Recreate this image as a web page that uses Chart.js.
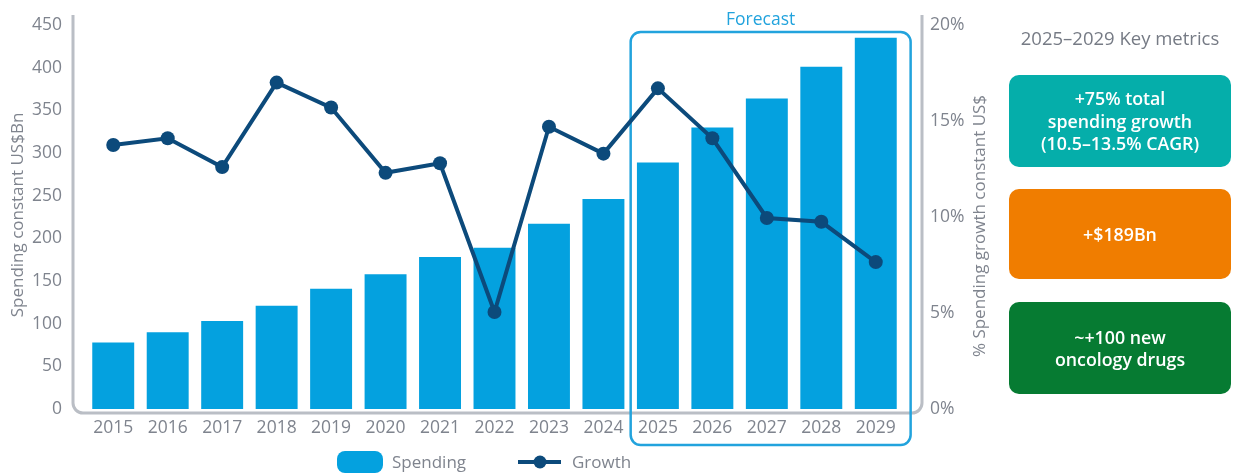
<!DOCTYPE html>
<html>
<head>
<meta charset="utf-8">
<title>Oncology spending</title>
<script src="https://cdn.jsdelivr.net/npm/chart.js@4/dist/chart.umd.min.js"></script>
<style>
  body { margin: 0; background: #fff; font-family: "Open Sans", sans-serif; }
  #wrap { position: relative; width: 1233px; height: 476px; overflow: hidden; }
  #chart { position: absolute; left: 0; top: 0; }
  .panel-title { position: absolute; left: 1009px; top: 26px; width: 222px; text-align: center;
    font-size: 18.5px; color: #767b85; line-height: 24px; }
  .kpi { position: absolute; left: 1009px; width: 222px; border-radius: 10px; color: #fff;
    font-weight: 600; font-size: 17.8px; line-height: 22.5px; display: flex; align-items: center;
    justify-content: center; text-align: center; }
</style>
</head>
<body>
<div id="wrap">
  <canvas id="chart" width="1233" height="476"></canvas>
  <div class="panel-title">2025–2029 Key metrics</div>
  <div class="kpi" style="top:75px;height:92px;background:#05aeaa;">+75% total<br>spending growth<br>(10.5–13.5% CAGR)</div>
  <div class="kpi" style="top:189px;height:90px;background:#f07d00;">+$189Bn</div>
  <div class="kpi" style="top:302px;height:92px;background:#067b32;">~+100 new<br>oncology drugs</div>
</div>
<script>
// Dane
const years = ['2015', '2016', '2017', '2018', '2019', '2020', '2021', '2022', '2023', '2024', '2025', '2026', '2027', '2028', '2029'];
const spending = [78, 90, 103, 121, 141, 158, 178, 189, 217, 246, 289, 330, 364, 401, 435];
const growth = [13.75, 14.1, 12.6, 17.0, 15.7, 12.3, 12.8, 5.05, 14.7, 13.3, 16.7, 14.1, 9.95, 9.75, 7.65];
const forecastFrom = '2025';

const GRAY = '#7f848e';
const AXIS = '#babec5';
const BAR = '#04a1df';
const NAVY = '#0c4a7b';
const BLUE = '#22a3dd';
const FONT = '"Open Sans", sans-serif';

function roundPath(ctx, x, y, w, h, r) {
    ctx.beginPath();
    ctx.moveTo(x + r, y);
    ctx.arcTo(x + w, y, x + w, y + h, r);
    ctx.arcTo(x + w, y + h, x, y + h, r);
    ctx.arcTo(x, y + h, x, y, r);
    ctx.arcTo(x, y, x + w, y, r);
    ctx.closePath();
}

// Stała szerokość osi pionowej, bez dodatkowego marginesu od etykiet
function fixVertical(width) {
    return s => {
        s.width = width;
        s.paddingTop = 10;
        s.paddingBottom = 10;
    };
}

// Rama osi, ramka prognozy, tytuły osi i legenda
const decorPlugin = {
    id: 'decor',
    beforeDatasetsDraw(chart) {
        const ctx = chart.ctx;
        const ca = chart.chartArea;
        const x = chart.scales.x;
        const i0 = years.indexOf(forecastFrom);
        const step = x.getPixelForValue(1) - x.getPixelForValue(0);

        // rama osi (lewa, dolna, prawa z zaokrąglonymi rogami)
        const l = ca.left - 13, r = ca.right + 19, b = ca.bottom + 4, t = ca.top - 10, rad = 10;
        ctx.save();
        ctx.strokeStyle = AXIS;
        ctx.lineWidth = 3;
        ctx.beginPath();
        ctx.moveTo(l, t);
        ctx.lineTo(l, b - rad);
        ctx.arcTo(l, b, l + rad, b, rad);
        ctx.lineTo(r - rad, b);
        ctx.arcTo(r, b, r, b - rad, rad);
        ctx.lineTo(r, t);
        ctx.stroke();

        // ramka prognozy
        const fl = (x.getPixelForValue(i0 - 1) + x.getPixelForValue(i0)) / 2;
        const fr = x.getPixelForValue(years.length - 1) + step * 0.64;
        const ft = ca.top + 7, fb = ca.bottom + 36;
        ctx.strokeStyle = BLUE;
        ctx.lineWidth = 2.5;
        roundPath(ctx, fl, ft, fr - fl, fb - ft, 10);
        ctx.stroke();
        ctx.fillStyle = BLUE;
        ctx.font = '17.5px ' + FONT;
        ctx.textAlign = 'center';
        ctx.textBaseline = 'alphabetic';
        ctx.fillText('Forecast', fl + 130, ca.top);
        ctx.restore();
    },
    afterDraw(chart) {
        const ctx = chart.ctx;
        const ca = chart.chartArea;
        ctx.save();
        ctx.fillStyle = GRAY;
        ctx.font = '17px ' + FONT;
        ctx.textAlign = 'center';
        ctx.textBaseline = 'middle';

        // tytuły osi (oba czytane od dołu do góry)
        ctx.save();
        ctx.translate(18, 215);
        ctx.rotate(-Math.PI / 2);
        ctx.fillText('Spending constant US$Bn', 0, 0);
        ctx.restore();
        ctx.save();
        ctx.translate(ca.right + 77, 226);
        ctx.rotate(-Math.PI / 2);
        ctx.fillText('% Spending growth constant US$', 0, 0);
        ctx.restore();

        // legenda
        const lx = ca.left + 251, ly = 462;
        ctx.fillStyle = BAR;
        roundPath(ctx, lx, ly - 11, 46, 22, 8);
        ctx.fill();
        ctx.fillStyle = GRAY;
        ctx.textAlign = 'left';
        ctx.fillText('Spending', lx + 55, ly + 1);
        const gx = lx + 181;
        ctx.strokeStyle = NAVY;
        ctx.lineWidth = 4;
        ctx.beginPath();
        ctx.moveTo(gx, ly);
        ctx.lineTo(gx + 43, ly);
        ctx.stroke();
        ctx.fillStyle = NAVY;
        ctx.beginPath();
        ctx.arc(gx + 22, ly, 6.5, 0, Math.PI * 2);
        ctx.fill();
        ctx.fillStyle = GRAY;
        ctx.fillText('Growth', gx + 54, ly + 1);
        ctx.restore();
    }
};

const tickFont = { family: FONT, size: 17.5 };

new Chart(document.getElementById('chart'), {
    data: {
        labels: years,
        datasets: [
            {
                type: 'line',
                label: 'Growth',
                data: growth,
                yAxisID: 'y1',
                borderColor: NAVY,
                backgroundColor: NAVY,
                borderWidth: 4,
                pointRadius: 7,
                pointBackgroundColor: NAVY,
                pointBorderWidth: 0,
                tension: 0,
                order: 0
            },
            {
                type: 'bar',
                label: 'Spending',
                data: spending,
                yAxisID: 'y',
                backgroundColor: BAR,
                borderWidth: 0,
                barPercentage: 0.77,
                categoryPercentage: 1,
                order: 1
            }
        ]
    },
    options: {
        responsive: false,
        animation: false,
        layout: { padding: { top: 25, right: 250, left: 0, bottom: 0 } },
        plugins: { legend: { display: false }, tooltip: { enabled: false } },
        scales: {
            x: {
                offset: true,
                grid: { display: false, drawTicks: false },
                border: { display: false },
                ticks: { color: GRAY, font: tickFont, padding: 9, maxRotation: 0 },
                afterFit: s => { s.height = 67; }
            },
            y: {
                position: 'left',
                min: 0,
                max: 450,
                grid: { display: false, drawTicks: false },
                border: { display: false },
                ticks: { stepSize: 50, color: GRAY, font: tickFont, padding: 24 },
                afterFit: fixVertical(86)
            },
            y1: {
                position: 'right',
                min: 0,
                max: 20,
                grid: { display: false, drawTicks: false },
                border: { display: false },
                ticks: { stepSize: 5, color: GRAY, font: tickFont, padding: 27, callback: v => v + '%' },
                afterFit: fixVertical(80)
            }
        }
    },
    plugins: [decorPlugin]
});
</script>
</body>
</html>
